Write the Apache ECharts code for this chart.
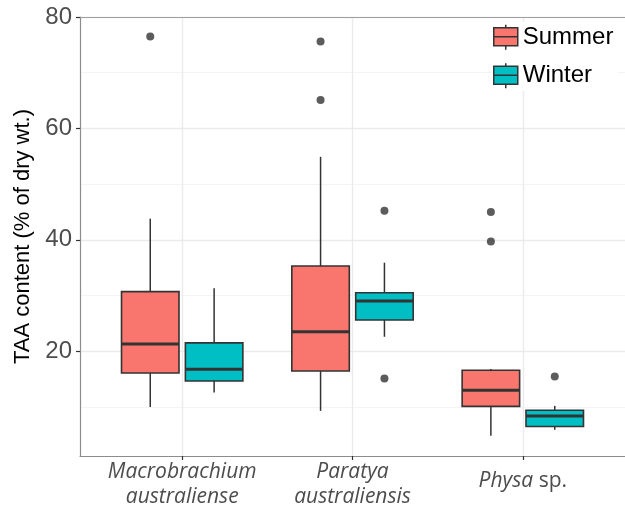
<!DOCTYPE html>
<html>
<head>
<meta charset="utf-8">
<script src="https://cdn.jsdelivr.net/npm/echarts@6/dist/echarts.min.js"></script>
<style>
  html, body { margin: 0; padding: 0; background: #fff; }
  #chart { width: 625px; height: 514px; }
</style>
</head>
<body>
<div id="chart"></div>
<script>
// ---- data ----
const categories = ['Macrobrachium australiense', 'Paratya australiensis', 'Physa sp.'];
const seasons = ['Summer', 'Winter'];
// [min whisker, Q1, median, Q3, max whisker]
const summerBox = [
  [10.0, 16.1, 21.3, 30.7, 43.8],
  [9.3, 16.45, 23.5, 35.3, 54.9],
  [4.85, 10.1, 13.0, 16.6, 16.8]
];
const winterBox = [
  [12.6, 14.65, 16.75, 21.5, 31.3],
  [22.6, 25.6, 29.0, 30.5, 35.9],
  [5.9, 6.5, 8.4, 9.4, 10.2]
];
// [category number, value]
const summerOutliers = [[1, 76.5], [2, 75.6], [2, 65.1], [3, 45.0], [3, 39.7]];
const winterOutliers = [[2, 45.2], [2, 15.1], [3, 15.45]];
const yMajorTicks = [20, 40, 60, 80];
const yMinorTicks = [10, 30, 50, 70];
const xTicks = [1, 2, 3];

// ---- style ----
const COLORS = { Summer: '#F8766D', Winter: '#00BFC4' };
const DODGE = 0.1875;
const HALF = 0.16875;
const INK = '#333333';

function makeRender(offset, color) {
  return function (params, api) {
    const x = api.value(0) + offset;
    const lo = api.value(1), q1 = api.value(2), med = api.value(3), q3 = api.value(4), hi = api.value(5);
    const c = (v) => api.coord([x, v]);
    const tl = api.coord([x - HALF, q3]);
    const br = api.coord([x + HALF, q1]);
    const ml = api.coord([x - HALF, med]);
    const mr = api.coord([x + HALF, med]);
    return {
      type: 'group',
      children: [
        { type: 'line', shape: { x1: c(hi)[0], y1: c(hi)[1], x2: c(q3)[0], y2: c(q3)[1] }, style: { stroke: INK, lineWidth: 1.5 } },
        { type: 'line', shape: { x1: c(q1)[0], y1: c(q1)[1], x2: c(lo)[0], y2: c(lo)[1] }, style: { stroke: INK, lineWidth: 1.5 } },
        { type: 'rect', shape: { x: tl[0], y: tl[1], width: br[0] - tl[0], height: br[1] - tl[1] }, style: { fill: color, stroke: INK, lineWidth: 1.6 } },
        { type: 'line', shape: { x1: ml[0], y1: ml[1], x2: mr[0], y2: mr[1] }, style: { stroke: INK, lineWidth: 3 } }
      ]
    };
  };
}

const boxData = (arr) => arr.map((b, i) => [i + 1].concat(b));
const outData = (arr, off) => arr.map((p) => [p[0] + off, p[1]]);

const LEGEND_ICON = 'path://M12,0L12,3M0,3L24,3L24,21L0,21ZM0,12L24,12M12,21L12,25';

function xLabel(v) {
  const name = categories[Math.round(v) - 1];
  if (!name) return '';
  if (name === 'Physa sp.') return '{one|Physa}{oneN| sp.}';
  const parts = name.split(' ');
  return '{it|' + parts[0] + '}\n{it|' + parts[1] + '}';
}

const LABEL_FONT = 'Open Sans, sans-serif';
const chart = echarts.init(document.getElementById('chart'), null, { renderer: 'canvas' });
chart.setOption({
  backgroundColor: '#ffffff',
  animation: false,
  grid: {
    left: 80, top: 17, right: -7, bottom: 58,
    show: false
  },
  legend: {
    orient: 'vertical',
    left: 492, top: 22,
    itemWidth: 24, itemHeight: 25, itemGap: 12,
    icon: LEGEND_ICON,
    itemStyle: { borderColor: INK, borderWidth: 1.5 },
    backgroundColor: '#ffffff',
    padding: [2, 4, 2, 1],
    textStyle: { fontFamily: 'Liberation Sans, Arial, sans-serif', fontSize: 24, color: '#000' },
    data: seasons
  },
  xAxis: [
    {
      type: 'value',
      min: 0.4, max: 3.6,
      position: 'bottom',
      axisLine: { show: true, lineStyle: { color: '#8c8c8c', width: 1.2 } },
      axisTick: { show: true, customValues: xTicks, length: 4, lineStyle: { color: INK, width: 1.2 } },
      splitLine: { show: true, lineStyle: { color: '#ebebeb', width: 1.4 } },
      axisLabel: {
        customValues: xTicks,
        margin: 4,
        formatter: xLabel,
        color: '#4d4d4d',
        rich: {
          it: { fontFamily: LABEL_FONT, fontStyle: 'italic', fontSize: 21, lineHeight: 24.5, color: '#4d4d4d' },
          one: { fontFamily: LABEL_FONT, fontStyle: 'italic', fontSize: 21, lineHeight: 42, color: '#4d4d4d' },
          oneN: { fontFamily: LABEL_FONT, fontSize: 21, lineHeight: 42, color: '#4d4d4d' }
        }
      }
    },
    {
      type: 'value',
      min: 0.4, max: 3.6,
      position: 'top',
      axisLine: { show: true, lineStyle: { color: '#a0a0a0', width: 1.2 } },
      axisTick: { show: false },
      axisLabel: { show: false },
      splitLine: { show: false }
    }
  ],
  yAxis: [
    {
      type: 'value', min: 1.2, max: 80, position: 'left',
      axisLine: { show: false },
      axisTick: { show: false, customValues: yMinorTicks },
      axisLabel: { show: false },
      splitLine: { show: true, lineStyle: { color: '#f3f3f3', width: 0.9 } }
    },
    {
      type: 'value', min: 1.2, max: 80, position: 'left',
      axisLine: { show: true, lineStyle: { color: '#8c8c8c', width: 1.2 } },
      axisTick: { show: true, customValues: yMajorTicks, length: 4, lineStyle: { color: INK, width: 1.2 } },
      axisLabel: { customValues: yMajorTicks, margin: 8, fontFamily: 'Liberation Sans, Arial, sans-serif', fontSize: 24, color: '#4d4d4d' },
      splitLine: { show: true, lineStyle: { color: '#ebebeb', width: 1.4 } },
      name: 'TAA content (% of dry wt.)',
      nameLocation: 'middle',
      nameRotate: 90,
      nameGap: 42,
      nameTextStyle: { fontFamily: 'Liberation Sans, Arial, sans-serif', fontSize: 22, color: '#000' }
    }
  ],
  series: [
    {
      name: 'Summer', type: 'custom', z: 3,
      itemStyle: { color: COLORS.Summer },
      renderItem: makeRender(-DODGE, COLORS.Summer),
      encode: { x: 0, y: [1, 2, 3, 4, 5] },
      data: boxData(summerBox)
    },
    {
      name: 'Winter', type: 'custom', z: 3,
      itemStyle: { color: COLORS.Winter },
      renderItem: makeRender(DODGE, COLORS.Winter),
      encode: { x: 0, y: [1, 2, 3, 4, 5] },
      data: boxData(winterBox)
    },
    {
      name: 'Summer outliers', type: 'scatter', z: 4,
      symbol: 'circle', symbolSize: 8,
      itemStyle: { color: INK },
      data: outData(summerOutliers, -DODGE)
    },
    {
      name: 'Winter outliers', type: 'scatter', z: 4,
      symbol: 'circle', symbolSize: 8,
      itemStyle: { color: INK },
      data: outData(winterOutliers, DODGE)
    }
  ]
});
</script>
</body>
</html>
